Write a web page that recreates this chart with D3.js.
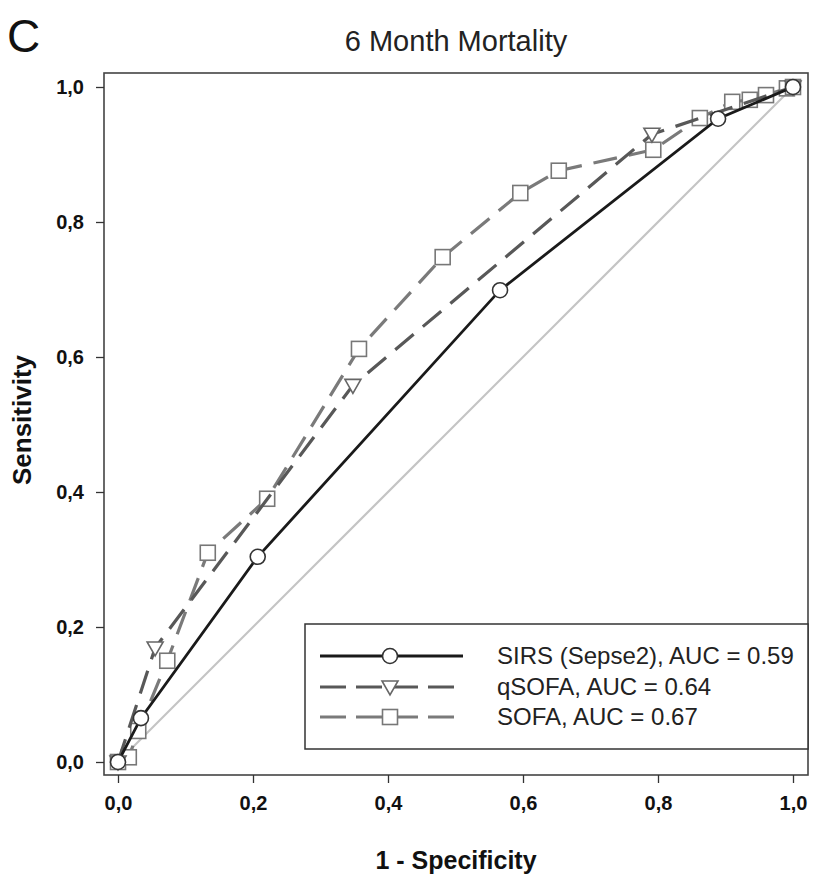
<!DOCTYPE html>
<html>
<head>
<meta charset="utf-8">
<script src="https://cdn.jsdelivr.net/npm/d3@7"></script>
<style>
  body { margin: 0; background: #fff; }
  svg { font-family: "Liberation Sans", Arial, sans-serif; }
</style>
</head>
<body>
<svg id="chart" width="817" height="884"></svg>
<script>
// ROC points, [1 - specificity, sensitivity]
var sirsPts  = [[0,0],[0.034,0.065],[0.207,0.304],[0.566,0.699],[0.889,0.953],[1,1]];
var qsofaPts = [[0,0],[0.055,0.169],[0.348,0.558],[0.791,0.930],[1,1]];
var sofaPts  = [[0,0],[0.016,0.007],[0.030,0.046],[0.073,0.150],[0.133,0.310],[0.221,0.390],
                [0.357,0.612],[0.481,0.748],[0.596,0.843],[0.653,0.876],[0.793,0.907],
                [0.862,0.954],[0.910,0.978],[0.936,0.981],[0.960,0.988],[0.991,0.998],[1,1]];
var seriesNames = ["SIRS (Sepse2), AUC = 0.59", "qSOFA, AUC = 0.64", "SOFA, AUC = 0.67"];
var tickValues = [0, 0.2, 0.4, 0.6, 0.8, 1.0];

var svg = d3.select("#chart");
var frame = {left: 104, top: 73, right: 808, bottom: 775};

var x = d3.scaleLinear().domain([0, 1]).range([118, 793]);
var y = d3.scaleLinear().domain([0, 1]).range([762, 87]);
var fmt = function(d){ return d3.format(".1f")(d).replace(".", ","); };

var series = [
  {name: seriesNames[0], pts: sirsPts,  color: "#1a1a1a", width: 2.8, dash: null,    marker: "circle",   mstroke: "#333"},
  {name: seriesNames[1], pts: qsofaPts, color: "#585858", width: 3.2, dash: "24,12", marker: "triangle", mstroke: "#666"},
  {name: seriesNames[2], pts: sofaPts,  color: "#7a7a7a", width: 3.2, dash: "24,12", marker: "square",   mstroke: "#777"}
];

// labels
svg.append("text").attr("x", 7).attr("y", 52)
  .style("font-size", "46px").attr("fill", "#111").text("C");
svg.append("text").attr("x", 456).attr("y", 51).attr("text-anchor", "middle")
  .style("font-size", "29px").attr("fill", "#222").text("6 Month Mortality");
svg.append("text").attr("x", 456).attr("y", 869).attr("text-anchor", "middle")
  .style("font-size", "25px").style("font-weight", "bold").attr("fill", "#111").text("1 - Specificity");
svg.append("text").attr("transform", "translate(31,420) rotate(-90)").attr("text-anchor", "middle")
  .style("font-size", "26px").style("font-weight", "bold").attr("fill", "#111").text("Sensitivity");

// frame
svg.append("rect")
  .attr("x", frame.left).attr("y", frame.top)
  .attr("width", frame.right - frame.left).attr("height", frame.bottom - frame.top)
  .attr("fill", "none").attr("stroke", "#444").attr("stroke-width", 1.6);

// axes
var xAxis = d3.axisBottom(x).tickValues(tickValues).tickFormat(fmt).tickSize(8).tickPadding(13);
var yAxis = d3.axisLeft(y).tickValues(tickValues).tickFormat(fmt).tickSize(8).tickPadding(12);

var gx = svg.append("g").attr("transform", "translate(0," + frame.bottom + ")").call(xAxis);
var gy = svg.append("g").attr("transform", "translate(" + frame.left + ",0)").call(yAxis);
[gx, gy].forEach(function(g){
  g.select(".domain").remove();
  g.selectAll(".tick line").attr("stroke", "#333").attr("stroke-width", 1.3);
  g.selectAll(".tick text")
    .attr("fill", "#111")
    .style("font-size", "20px")
    .style("font-weight", "bold")
    .style("font-family", "\"Liberation Sans\", Arial, sans-serif");
});

// reference diagonal
svg.append("line")
  .attr("x1", x(0)).attr("y1", y(0)).attr("x2", x(1)).attr("y2", y(1))
  .attr("stroke", "#c4c4c4").attr("stroke-width", 2.2);

var line = d3.line().x(function(d){ return x(d[0]); }).y(function(d){ return y(d[1]); });

function drawMarker(g, type, cx, cy, stroke) {
  if (type === "circle") {
    g.append("circle").attr("cx", cx).attr("cy", cy).attr("r", 7.5)
      .attr("fill", "#fff").attr("stroke", stroke).attr("stroke-width", 1.6);
  } else if (type === "square") {
    g.append("rect").attr("x", cx - 7.5).attr("y", cy - 7.5).attr("width", 15).attr("height", 15)
      .attr("fill", "#fff").attr("stroke", stroke).attr("stroke-width", 1.6);
  } else {
    g.append("path")
      .attr("d", "M" + (cx - 8) + "," + (cy - 6) + "L" + (cx + 8) + "," + (cy - 6) + "L" + cx + "," + (cy + 8) + "Z")
      .attr("fill", "#fff").attr("stroke", stroke).attr("stroke-width", 1.6);
  }
}

// series lines (drawn back to front so SIRS sits on top)
series.slice().reverse().forEach(function(s){
  var g = svg.append("g");
  g.append("path").datum(s.pts)
    .attr("d", line)
    .attr("fill", "none")
    .attr("stroke", s.color)
    .attr("stroke-width", s.width)
    .attr("stroke-dasharray", s.dash);
  s.pts.forEach(function(p){
    drawMarker(g, s.marker, x(p[0]), y(p[1]), s.mstroke);
  });
});

// legend
var lg = svg.append("g");
lg.append("rect").attr("x", 305).attr("y", 624).attr("width", 503).attr("height", 125)
  .attr("fill", "#fff").attr("stroke", "#333").attr("stroke-width", 1.5);
var rowY = [656, 687, 717];
series.forEach(function(s, i){
  lg.append("line").attr("x1", 320).attr("x2", 463).attr("y1", rowY[i]).attr("y2", rowY[i])
    .attr("stroke", s.color).attr("stroke-width", s.width)
    .attr("stroke-dasharray", s.dash ? "26,10" : null);
  drawMarker(lg, s.marker, 390, rowY[i], s.mstroke);
  lg.append("text").attr("x", 497).attr("y", rowY[i] + 8)
    .style("font-size", "24px").attr("fill", "#222").text(s.name);
});
</script>
</body>
</html>
